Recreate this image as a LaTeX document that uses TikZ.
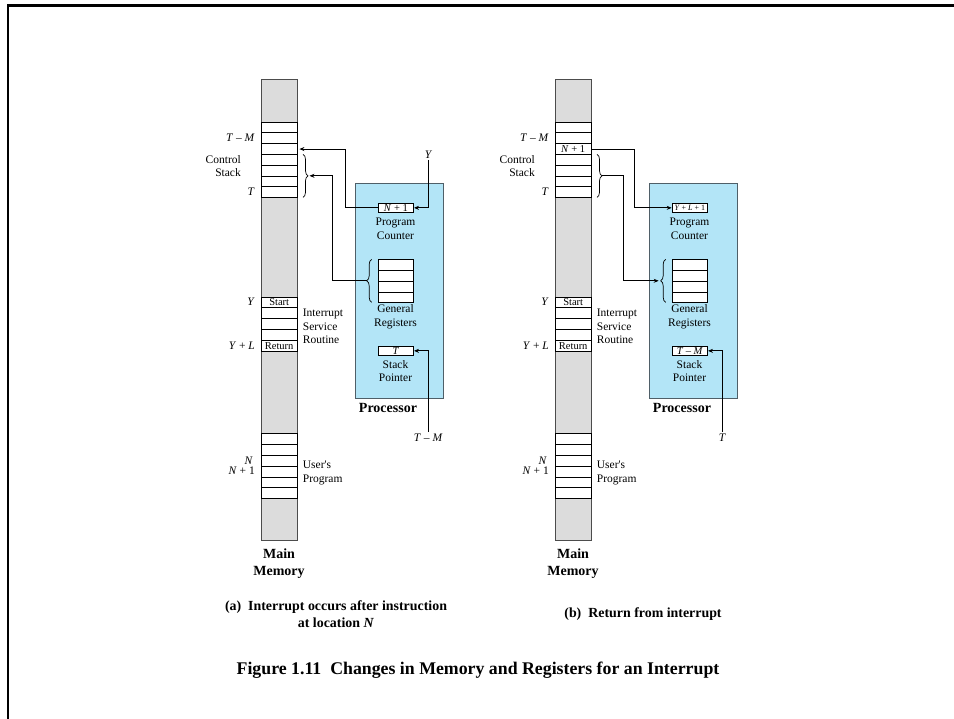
\documentclass[tikz,border=0pt]{standalone}
\usepackage{fontspec}
\setmainfont{Liberation Serif}
\usetikzlibrary{arrows.meta,decorations.pathreplacing}
\definecolor{memgray}{HTML}{DCDCDC}
\definecolor{procblue}{HTML}{B3E5F7}
\definecolor{procedge}{HTML}{4F5F68}
\newcommand\fsz[2]{\fontsize{#1}{#2}\selectfont}
% #1 prefix, #2 PC text, #3 SP text, #4 text of stack cell 3
\newcommand\diagram[4]{%
  \node[memcol, minimum height=461pt] (#1col) at (261,79) {};
  \foreach \i in {1,...,7} {\node[cell] (#1s\i) at (261,{121.7+(\i-1)*10.8}) {};}
  \node[celltext] at (#1s3) {#4};
  \node[cell] (#1i1) at (261,296.7) {Start};
  \node[cell] (#1i2) at (261,307.5) {};
  \node[cell] (#1i3) at (261,318.3) {};
  \node[cell] (#1i4) at (261,329.1) {};
  \node[cell] (#1i5) at (261,339.9) {Return};
  \foreach \i in {1,...,6} {\node[cell] (#1u\i) at (261,{433.3+(\i-1)*10.83}) {};}
  \node[lbl, anchor=east] (#1lTM) at (255,137.9) {\textit{T} – \textit{M}};
  \node[lbl, anchor=east] (#1lCS) at (241,166) {Control\\\hspace*{0pt}\hfill Stack};
  \node[lbl, anchor=east] (#1lT) at (255,191.9) {\textit{T}};
  \node[lbl, anchor=east] (#1lY) at (255,302.1) {\textit{Y}};
  \node[lbl, anchor=east] (#1lYL) at (255,345.3) {\textit{Y} + \textit{L}};
  \node[lbl, anchor=east] (#1lN) at (253,460.4) {\textit{N}};
  \node[lbl, anchor=east] (#1lN1) at (255,471.2) {\textit{N} + 1};
  \node[lbl, anchor=west, align=left] (#1isr) at (302.7,326.5) {Interrupt\\Service\\Routine};
  \node[lbl, anchor=west, align=left] (#1up) at (302.7,473) {User\textquotesingle s\\Program};
  \node[boldlbl] (#1mm) at (279,563.5) {Main\\Memory};
  \node[proc] (#1proc) at (355,182.7) {};
  \node[reg] (#1pc) at (377.7,202.7) {#2};
  \node[lbl] (#1lpc) at (395.5,229) {Program\\Counter};
  \foreach \i in {1,...,4} {\node[cell, minimum width=35.6pt, minimum height=10.75pt] (#1g\i) at (377.7,{259.3+(\i-1)*10.75}) {};}
  \node[lbl] (#1lgr) at (395.5,317) {General\\Registers};
  \node[reg] (#1sp) at (377.7,345.7) {#3};
  \node[lbl] (#1lsp) at (395.5,371) {Stack\\Pointer};
  \node[boldlbl] (#1lproc) at (388,407.7) {Processor};
  \draw[brc] (303,154.3) -- (303,197.3);
  \coordinate (#1cb) at (308,175.8);
  \draw[brc] (371.7,302.3) -- (371.7,259.3);
  \coordinate (#1gb) at (366.7,280.8);
}
\begin{document}
\begin{tikzpicture}[x=1pt,y=-1pt,
  memcol/.style={draw=gray!60!black, fill=memgray, line width=0.9pt, minimum width=35.7pt, inner sep=0, anchor=north west},
  cell/.style={draw=black, fill=white, line width=0.7pt, minimum width=35.7pt, minimum height=10.8pt, inner sep=0, anchor=north west, font=\fsz{10.5}{11}},
  celltext/.style={inner sep=0, font=\fsz{10.5}{11}},
  reg/.style={draw=black, fill=white, line width=0.7pt, minimum width=35.6pt, minimum height=9.6pt, inner sep=0, anchor=north west, font=\fsz{10.5}{11}},
  proc/.style={draw=procedge, fill=procblue, line width=1.2pt, inner sep=0, anchor=north west, minimum width=87.7pt, minimum height=215.6pt},
  lbl/.style={font=\fsz{11.5}{13.5}, inner sep=0, align=center},
  boldlbl/.style={font=\fsz{14}{17}\bfseries, inner sep=0, align=center},
  captext/.style={font=\fsz{13.9}{16.7}\bfseries, inner sep=0, align=center},
  figcap/.style={font=\fsz{17.8}{20}\bfseries, inner sep=0, align=center},
  arr/.style={line width=0.7pt, -{Stealth[length=5pt,width=4pt]}},
  brc/.style={line width=0.7pt, decorate, decoration={brace, amplitude=5pt}},
]
\useasboundingbox (0,0) rectangle (954,719);
\draw[line width=2.5pt] (954,5.3) -- (8,5.3) -- (8,719);
% (a)
\diagram{L}{\textit{N} + 1}{\textit{T}}{}
\node[lbl, inner sep=1.5pt] (LY) at (428.7,154.3) {\textit{Y}};
\node[lbl, inner sep=1.5pt] (LTM) at (428.3,437.7) {\textit{T} – \textit{M}};
\draw[arr] (LY.south) |- (Lpc.east);
\draw[arr, shorten >=2pt] (Lpc.west) -- ++(-32,0) |- (Ls3.east);
\draw[arr, shorten >=1.5pt] (Lgb) -- ++(-34.4,0) |- (Lcb);
\draw[arr] (LTM.north) |- (Lsp.east);
% (b)
\begin{scope}[xshift=294pt]
\diagram{R}{\fsz{8}{9}\textit{Y} + \textit{L} + 1}{\textit{T} – \textit{M}}{\textit{N} + 1}
\node[lbl, inner sep=1.5pt] (RT) at (428.3,437.7) {\textit{T}};
\end{scope}
\draw[arr] (Rs3.east) -- ++(43.3,0) |- (Rpc.west);
\draw[arr, shorten >=2pt] (Rcb) -- ++(21.3,0) |- (Rgb);
\draw[arr] (RT.north) |- (Rsp.east);
% captions
\node[captext] (capa) at (336,614.3) {(a)\ \ Interrupt occurs after instruction\\at location \textit{N}};
\node[captext] (capb) at (643,614.3) {(b)\ \ Return from interrupt};
\node[figcap] (fig) at (478,670.5) {Figure 1.11\ \ Changes in Memory and Registers for an Interrupt};
\end{tikzpicture}
\end{document}
